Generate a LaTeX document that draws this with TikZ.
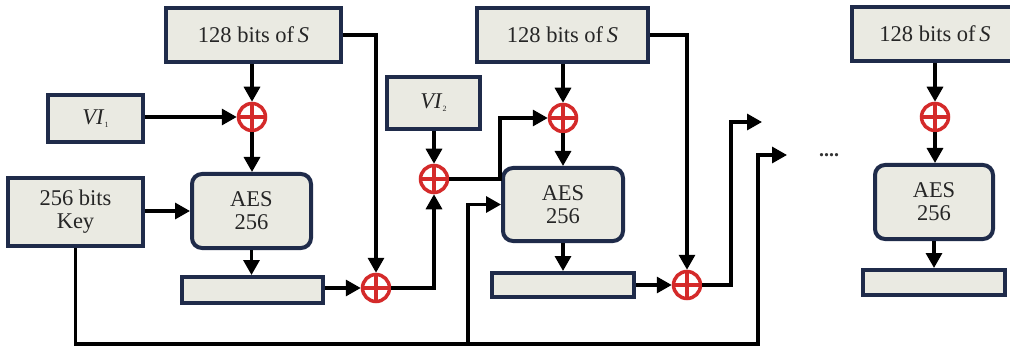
\documentclass[tikz,border=0pt]{standalone}
\usepackage{fontspec}
\setmainfont{Liberation Serif}
\usetikzlibrary{arrows.meta}
\definecolor{boxfill}{HTML}{EAEAE2}
\definecolor{boxline}{HTML}{1F2B4A}
\definecolor{xorred}{HTML}{D42A2A}
\begin{document}
\begin{tikzpicture}[x=1pt,y=-1pt,
  blk/.style={draw=boxline, fill=boxfill, line width=4pt, inner sep=0pt, font=\fontsize{22.5}{23}\selectfont, align=center, text=black!85},
  aes/.style={blk, rounded corners=10pt},
  xor/.style={circle, draw=xorred, line width=3.5pt, fill=white, minimum size=27pt, inner sep=0pt,
    path picture={\draw[xorred, line width=3.5pt] (path picture bounding box.north) -- (path picture bounding box.south) (path picture bounding box.west) -- (path picture bounding box.east);}},
  conn/.style={line width=3.3pt, -{Triangle[length=15pt,width=16pt]}},
  wire/.style={line width=3.3pt}]
\useasboundingbox (0,0) rectangle (1010,350);
% blocks
\node[blk, minimum width=175pt, minimum height=54pt] (S1) at (253.5,35) {128 bits of\,\textit{S}};
\node[blk, minimum width=95pt, minimum height=47pt] (VI1) at (95.5,118.5) {\textit{VI}\raisebox{-3pt}{\fontsize{8}{8}\selectfont 1}};
\node[xor] (X1) at (252,117) {};
\node[blk, minimum width=135pt, minimum height=68pt] (Key) at (75.5,212) {256 bits\\Key};
\node[aes, minimum width=119pt, minimum height=74pt] (A1) at (251.5,211) {AES\\256};
\node[blk, minimum width=141pt, minimum height=26pt] (O1) at (252.5,290) {};
\node[xor] (X3) at (376,288) {};
\node[blk, minimum width=93pt, minimum height=52pt] (VI2) at (433.5,103) {\textit{VI}\raisebox{-3pt}{\fontsize{8}{8}\selectfont 2}};
\node[xor] (X2) at (434,179) {};
\node[blk, minimum width=171pt, minimum height=54pt] (S2) at (562.5,35) {128 bits of\,\textit{S}};
\node[xor] (X4) at (563,118) {};
\node[aes, minimum width=120pt, minimum height=73pt] (A2) at (563,204.5) {AES\\256};
\node[blk, minimum width=142pt, minimum height=24pt] (O2) at (563,285) {};
\node[xor] (X5) at (687,285) {};
\node[blk, minimum width=166pt, minimum height=54pt] (S3) at (935,34) {128 bits of\,\textit{S}};
\node[xor] (X6) at (935,117) {};
\node[aes, minimum width=118pt, minimum height=74pt] (A3) at (934,202) {AES\\256};
\node[blk, minimum width=142pt, minimum height=25pt] (O3) at (934,282.5) {};
\node[font=\fontsize{20}{20}\selectfont\bfseries, text=black!80] (dots) at (829,155) {....};
% helper coordinates
\coordinate (t2) at (500,0);
\coordinate (t5) at (731,0);
\coordinate (o5) at (762,122);
\coordinate (kc) at (758,344);
\coordinate (ke) at (787,155);
\coordinate (kb) at (468,344);
% connectors stage 1
\draw[conn] (X1 |- S1.south) -- (X1.north);
\draw[conn] (VI1.east |- X1) -- (X1.west);
\draw[conn] (X1.south) -- (X1 |- A1.north);
\draw[conn] (Key.east |- A1) -- (A1.west);
\draw[conn] (A1.south) -- (A1 |- O1.north);
\draw[conn] (O1.east |- X3) -- (X3.west);
\draw[conn] (S1.east) -| (X3.north);
\draw[conn] (X3.east) -| (X2.south);
\draw[conn] (X2 |- VI2.south) -- (X2.north);
\draw[conn] (X2.east) -- (X2 -| t2) |- (X4.west);
% stage 2
\draw[conn] (X4 |- S2.south) -- (X4.north);
\draw[conn] (X4.south) -- (X4 |- A2.north);
\draw[conn] (A2.south) -- (A2 |- O2.north);
\draw[conn] (O2.east |- X5) -- (X5.west);
\draw[conn] (S2.east) -| (X5.north);
\draw[conn] (X5.east) -- (X5 -| t5) |- (o5);
% key line
\draw[conn] (Key.south) |- (kc) -- (kc |- ke) -- (ke);
\draw[conn] (kb) |- (A2.west);
% stage 3
\draw[conn] (X6 |- S3.south) -- (X6.north);
\draw[conn] (X6.south) -- (X6 |- A3.north);
\draw[conn] (A3.south) -- (A3 |- O3.north);
\end{tikzpicture}
\end{document}
